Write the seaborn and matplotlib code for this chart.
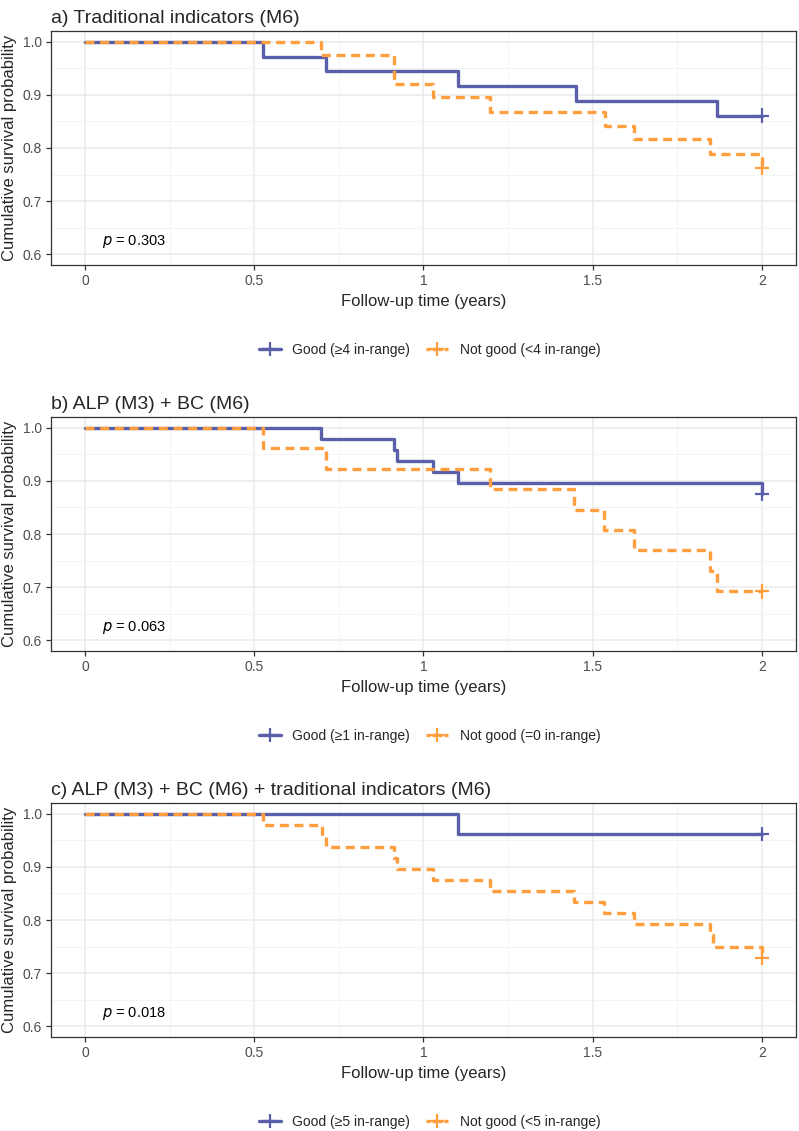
import pandas as pd
import seaborn as sns
import matplotlib.pyplot as plt
from matplotlib.lines import Line2D
from matplotlib.ticker import MultipleLocator

# panel titles and legend labels
titles = ['a) Traditional indicators (M6)',
          'b) ALP (M3) + BC (M6)',
          'c) ALP (M3) + BC (M6) + traditional indicators (M6)']
good_labels = ['Good (≥4 in-range)', 'Good (≥1 in-range)', 'Good (≥5 in-range)']
bad_labels = ['Not good (<4 in-range)', 'Not good (=0 in-range)', 'Not good (<5 in-range)']
p_values = ['0.303', '0.063', '0.018']

# KM step curves (time in years, survival)
a_good_t = [0, 0.526, 0.713, 1.101, 1.452, 1.866, 2.0]
a_good_s = [1.0, 0.972, 0.944, 0.917, 0.889, 0.861, 0.861]
a_bad_t = [0, 0.696, 0.914, 1.028, 1.197, 1.535, 1.622, 1.847, 2.0]
a_bad_s = [1.0, 0.974, 0.921, 0.895, 0.868, 0.842, 0.816, 0.789, 0.763]

b_good_t = [0, 0.696, 0.914, 0.921, 1.028, 1.101, 2.0]
b_good_s = [1.0, 0.979, 0.958, 0.9375, 0.917, 0.896, 0.875]
b_bad_t = [0, 0.526, 0.713, 1.197, 1.445, 1.533, 1.622, 1.847, 1.866, 2.0]
b_bad_s = [1.0, 0.962, 0.923, 0.885, 0.846, 0.808, 0.769, 0.731, 0.692, 0.692]

c_good_t = [0, 1.101, 2.0]
c_good_s = [1.0, 0.962, 0.962]
c_bad_t = [0, 0.526, 0.700, 0.712, 0.914, 0.921, 1.028, 1.197, 1.445, 1.533, 1.622, 1.847, 1.856, 2.0]
c_bad_s = [1.0, 0.979, 0.958, 0.9375, 0.917, 0.896, 0.875, 0.854, 0.833, 0.8125, 0.792, 0.771, 0.75, 0.729]

curves = [(a_good_t, a_good_s, a_bad_t, a_bad_s),
          (b_good_t, b_good_s, b_bad_t, b_bad_s),
          (c_good_t, c_good_s, c_bad_t, c_bad_s)]

blue = '#5A5FAA'
orange = '#FF9E3D'

sns.set_style('white')
plt.rcParams['font.family'] = ['Liberation Sans', 'DejaVu Sans']

fig = plt.figure(figsize=(7.99, 11.31), dpi=100)
bottoms = [0.7657, 0.4244, 0.0831]

for i in range(3):
    gt, gs, bt, bs = curves[i]
    df = pd.concat([
        pd.DataFrame({'time': gt, 'surv': gs, 'group': 'good'}),
        pd.DataFrame({'time': bt, 'surv': bs, 'group': 'bad'}),
    ], ignore_index=True)
    cens = pd.DataFrame({'time': [gt[-1], bt[-1]], 'surv': [gs[-1], bs[-1]],
                         'group': ['good', 'bad']})

    ax = fig.add_axes([0.064, bottoms[i], 0.932, 0.2069])
    sns.lineplot(data=df, x='time', y='surv', hue='group', style='group',
                 palette={'good': blue, 'bad': orange},
                 dashes={'good': '', 'bad': (2.7, 1.7)},
                 estimator=None, drawstyle='steps-post', lw=2.4,
                 legend=False, ax=ax, zorder=3)
    sns.scatterplot(data=cens, x='time', y='surv', hue='group',
                    palette={'good': blue, 'bad': orange}, marker='+',
                    s=110, linewidth=1.6, legend=False, ax=ax, zorder=4)

    ax.set_xlim(-0.1, 2.1)
    ax.set_ylim(0.58, 1.02)
    ax.set_xticks([0, 0.5, 1, 1.5, 2])
    ax.set_xticklabels(['0', '0.5', '1', '1.5', '2'])
    ax.set_yticks([0.6, 0.7, 0.8, 0.9, 1.0])
    ax.set_yticklabels(['0.6', '0.7', '0.8', '0.9', '1.0'])
    ax.xaxis.set_minor_locator(MultipleLocator(0.25))
    ax.yaxis.set_minor_locator(MultipleLocator(0.05))
    ax.grid(True, which='major', color='#EBEBEB', lw=1.1, zorder=0)
    ax.grid(True, which='minor', color='#F2F2F2', lw=0.6, zorder=0)
    ax.tick_params(axis='both', which='major', direction='out', length=3.5,
                   width=0.9, color='#333333', labelsize=10,
                   labelcolor='#4D4D4D', pad=3, left=True, bottom=True)
    ax.tick_params(axis='both', which='minor', length=0)
    for sp in ax.spines.values():
        sp.set_color('#333333')
        sp.set_linewidth(0.9)

    ax.set_xlabel('Follow-up time (years)', fontsize=12, labelpad=4)
    ax.set_ylabel('Cumulative survival probability', fontsize=12, labelpad=4)
    ax.set_title(titles[i], loc='left', fontsize=14, pad=6)

    ax.text(0.05, 0.624, r'$p$ = ' + p_values[i], fontsize=10.5,
            va='center', ha='left', color='black')

    handles = [Line2D([], [], color=blue, lw=2.4, marker='+', ms=10, mew=1.6),
               Line2D([], [], color=orange, lw=2.4, ls=(0, (1.2, 0.6)),
                      marker='+', ms=10, mew=1.6)]
    ax.legend(handles, [good_labels[i], bad_labels[i]], loc='center',
              bbox_to_anchor=(0.508, -0.363), ncol=2, frameon=False,
              fontsize=10, handlelength=1.6, columnspacing=1.2,
              handletextpad=0.8)

fig.savefig('out.png', dpi=100)
